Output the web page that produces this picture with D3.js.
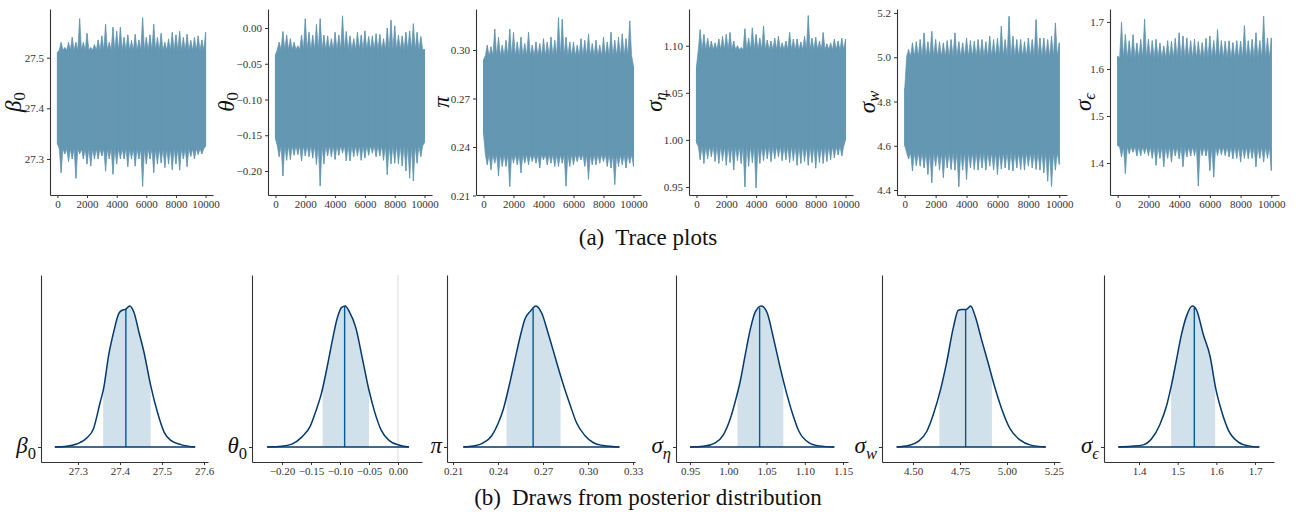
<!DOCTYPE html>
<html>
<head>
<meta charset="utf-8">
<script src="https://cdn.jsdelivr.net/npm/d3@7"></script>
<style>
  body { margin: 0; background: #fff; }
  svg text { font-family: "Liberation Serif", "Times New Roman", "DejaVu Serif", serif; }
</style>
</head>
<body>
<div id="chart"></div>
<script>
// ---------- data ----------
const traceIter = [0,250,500,750,1000,1250,1500,1750,2000,2250,2500,2750,3000,3250,3500,3750,4000,4250,4500,4750,
  5000,5250,5500,5750,6000,6250,6500,6750,7000,7250,7500,7750,8000,8250,8500,8750,9000,9250,9500,9750,10000];
const traceXTicks = [0,2000,4000,6000,8000,10000];

// upper / lower extremes of each trace, read per 250 iterations
const hiBeta0 = [27.51,27.53,27.52,27.53,27.54,27.53,27.577,27.53,27.548,27.52,27.526,27.535,27.543,27.566,27.53,27.56,27.552,27.56,27.54,27.545,
  27.534,27.546,27.535,27.579,27.54,27.545,27.566,27.54,27.548,27.53,27.537,27.55,27.545,27.552,27.54,27.546,27.534,27.54,27.543,27.535,27.55];
const loBeta0 = [27.33,27.273,27.31,27.295,27.30,27.262,27.31,27.30,27.29,27.286,27.30,27.30,27.306,27.276,27.30,27.27,27.29,27.30,27.30,27.285,
  27.30,27.286,27.30,27.246,27.29,27.30,27.273,27.29,27.292,27.283,27.29,27.279,27.29,27.278,27.30,27.285,27.305,27.30,27.309,27.31,27.325];
const hiTheta0 = [-0.037,-0.02,-0.005,-0.01,-0.015,-0.02,-0.025,-0.01,0.013,-0.006,-0.01,0.005,0.013,-0.01,-0.011,-0.015,-0.006,-0.01,0.017,-0.005,
  -0.011,-0.015,-0.006,-0.01,-0.004,-0.012,-0.011,-0.008,-0.009,-0.015,0.0,0.011,0.003,-0.01,-0.011,-0.006,-0.004,0.006,-0.006,-0.012,-0.03];
const loTheta0 = [-0.155,-0.18,-0.207,-0.185,-0.184,-0.178,-0.177,-0.186,-0.179,-0.18,-0.182,-0.191,-0.221,-0.19,-0.179,-0.18,-0.184,-0.178,-0.175,-0.186,
  -0.186,-0.18,-0.179,-0.185,-0.182,-0.178,-0.175,-0.18,-0.179,-0.185,-0.205,-0.19,-0.189,-0.19,-0.193,-0.2,-0.21,-0.214,-0.189,-0.18,-0.16];
const hiPi = [0.294,0.303,0.302,0.313,0.308,0.303,0.306,0.313,0.311,0.305,0.308,0.304,0.311,0.303,0.305,0.304,0.307,0.305,0.308,0.306,
  0.320,0.319,0.308,0.305,0.305,0.303,0.307,0.306,0.31,0.304,0.306,0.303,0.308,0.305,0.311,0.306,0.308,0.31,0.307,0.318,0.29];
const loPi = [0.248,0.229,0.226,0.23,0.222,0.228,0.228,0.2155,0.23,0.229,0.224,0.23,0.229,0.231,0.23,0.227,0.232,0.229,0.23,0.228,
  0.228,0.23,0.2158,0.228,0.229,0.231,0.232,0.228,0.22,0.229,0.229,0.23,0.231,0.228,0.227,0.2168,0.228,0.229,0.227,0.23,0.228];
const hiSigEta = [1.078,1.117,1.112,1.108,1.105,1.103,1.107,1.11,1.112,1.114,1.105,1.1,1.098,1.118,1.108,1.119,1.112,1.108,1.121,1.106,
  1.105,1.108,1.11,1.103,1.105,1.114,1.107,1.107,1.104,1.11,1.132,1.108,1.109,1.105,1.114,1.102,1.103,1.107,1.105,1.108,1.107];
const loSigEta = [0.997,0.979,0.975,0.98,0.982,0.977,0.975,0.978,0.973,0.976,0.968,0.978,0.975,0.95,0.972,0.976,0.949,0.975,0.978,0.98,
  0.977,0.98,0.982,0.978,0.979,0.976,0.978,0.973,0.975,0.977,0.973,0.976,0.97,0.976,0.975,0.977,0.979,0.981,0.984,0.983,1.0];
const hiSigW = [4.86,5.035,5.065,5.07,5.08,5.11,5.07,5.117,5.08,5.07,5.065,5.075,5.08,5.11,5.07,5.065,5.087,5.075,5.072,5.08,
  5.08,5.07,5.095,5.08,5.087,5.14,5.08,5.185,5.095,5.08,5.08,5.07,5.087,5.08,5.17,5.087,5.087,5.08,5.095,5.155,5.065];
const loSigW = [4.6,4.54,4.486,4.51,4.508,4.5,4.47,4.433,4.508,4.49,4.456,4.5,4.493,4.49,4.415,4.49,4.448,4.5,4.493,4.49,
  4.5,4.49,4.508,4.49,4.47,4.495,4.5,4.49,4.486,4.5,4.493,4.49,4.508,4.5,4.493,4.49,4.478,4.44,4.415,4.49,4.516];
const hiSigEps = [1.627,1.699,1.673,1.66,1.673,1.655,1.663,1.706,1.663,1.66,1.663,1.655,1.649,1.66,1.659,1.665,1.677,1.67,1.666,1.66,
  1.663,1.658,1.656,1.665,1.67,1.66,1.684,1.66,1.659,1.66,1.656,1.66,1.659,1.692,1.66,1.663,1.677,1.66,1.712,1.666,1.666];
const loSigEps = [1.437,1.413,1.3775,1.42,1.423,1.415,1.416,1.42,1.416,1.41,1.395,1.41,1.392,1.41,1.402,1.415,1.409,1.392,1.413,1.415,
  1.416,1.351,1.416,1.415,1.384,1.37,1.416,1.418,1.416,1.413,1.409,1.41,1.402,1.41,1.409,1.41,1.392,1.41,1.402,1.41,1.384];

// solid body of each trace (where the chain sits almost all the time)
const coreHi = [27.515,-0.03,0.2966,1.096,5.005,1.624];
const coreLo = [27.32,-0.165,0.2352,0.993,4.568,1.434];

const traceYTicks = [[27.3,27.4,27.5],[-0.20,-0.15,-0.10,-0.05,0.00],[0.21,0.24,0.27,0.30],[0.95,1.00,1.05,1.10],[4.4,4.6,4.8,5.0,5.2],[1.4,1.5,1.6,1.7]];
const traceYFmt = [".1f",".2f",".2f",".2f",".1f",".1f"];

// posterior densities (value, relative height)
const densBeta0 = [[27.245,0],[27.273,0.005],[27.297,0.021],[27.321,0.064],[27.337,0.13],[27.353,0.319],[27.361,0.414],[27.373,0.65],[27.385,0.816],
  [27.397,0.946],[27.405,0.97],[27.413,0.976],[27.423,1.0],[27.433,0.957],[27.445,0.816],[27.457,0.674],[27.473,0.437],[27.489,0.248],[27.505,0.106],
  [27.521,0.047],[27.545,0.017],[27.579,0]];
const densTheta0 = [[-0.2256,0],[-0.2006,0.005],[-0.183,0.02],[-0.166,0.07],[-0.151,0.15],[-0.142,0.25],[-0.132,0.38],[-0.122,0.57],[-0.113,0.76],
  [-0.105,0.91],[-0.097,0.99],[-0.091,1.0],[-0.084,0.96],[-0.073,0.85],[-0.061,0.62],[-0.051,0.42],[-0.041,0.26],[-0.029,0.12],[-0.015,0.045],
  [0.003,0.012],[0.019,0]];
const densPi = [[0.2169,0],[0.2236,0.007],[0.2302,0.03],[0.2358,0.08],[0.2402,0.17],[0.2436,0.27],[0.2471,0.42],[0.2513,0.62],[0.2547,0.78],
  [0.258,0.91],[0.2613,0.96],[0.2653,1.0],[0.2691,0.95],[0.2736,0.8],[0.278,0.64],[0.2813,0.52],[0.2836,0.44],[0.288,0.3],[0.2924,0.17],
  [0.298,0.08],[0.3036,0.03],[0.3102,0.01],[0.3209,0]];
const densSigEta = [[0.95,0],[0.9675,0.005],[0.983,0.03],[0.994,0.09],[1.0026,0.2],[1.01,0.34],[1.0158,0.47],[1.0224,0.66],[1.029,0.84],
  [1.0355,0.96],[1.0434,1.0],[1.0509,0.95],[1.0596,0.76],[1.0684,0.55],[1.0763,0.38],[1.0838,0.24],[1.0925,0.11],[1.1057,0.03],[1.1189,0.008],[1.1386,0]];
const densSigW = [[4.413,0],[4.475,0.01],[4.528,0.04],[4.573,0.11],[4.608,0.23],[4.647,0.41],[4.679,0.6],[4.715,0.85],[4.741,0.97],[4.759,0.975],
  [4.782,0.975],[4.807,1.0],[4.83,0.93],[4.865,0.76],[4.901,0.59],[4.936,0.42],[4.972,0.27],[5.016,0.13],[5.069,0.05],[5.122,0.015],[5.206,0]];
const densSigEps = [[1.3466,0],[1.381,0.005],[1.411,0.015],[1.433,0.06],[1.454,0.16],[1.472,0.3],[1.484,0.44],[1.497,0.62],[1.51,0.8],[1.523,0.93],
  [1.538,1.0],[1.549,0.97],[1.566,0.8],[1.584,0.64],[1.598,0.42],[1.614,0.25],[1.631,0.12],[1.657,0.035],[1.683,0.008],[1.711,0]];

const medians = [27.414,-0.092,0.2634,1.041,4.78,1.543];
const intervalLo = [27.36,-0.13,0.2457,1.012,4.64,1.483];
const intervalHi = [27.473,-0.05,0.2817,1.072,4.92,1.597];

const densXTicks = [[27.3,27.4,27.5,27.6],[-0.20,-0.15,-0.10,-0.05,0.00],[0.21,0.24,0.27,0.30,0.33],[0.95,1.00,1.05,1.10,1.15],[4.50,4.75,5.00,5.25],[1.4,1.5,1.6,1.7]];
const densXFmt = [".1f",".2f",".2f",".2f",".2f",".1f"];

const labels = [
  {base:"β", sub:"0", subItalic:false},
  {base:"θ", sub:"0", subItalic:false},
  {base:"π", sub:null},
  {base:"σ", sub:"η", subItalic:true},
  {base:"σ", sub:"w", subItalic:true},
  {base:"σ", sub:"ϵ", subItalic:true}
];

const traceHi = [hiBeta0,hiTheta0,hiPi,hiSigEta,hiSigW,hiSigEps];
const traceLo = [loBeta0,loTheta0,loPi,loSigEta,loSigW,loSigEps];
const dens = [densBeta0,densTheta0,densPi,densSigEta,densSigW,densSigEps];

// ---------- layout ----------
const W = 1296, H = 512;
const traceColor = "#6497b1", areaFill = "#d1e1ec", outline = "#03396c", medColor = "#005b96", axisColor = "#333";
const topPanels = [
  {x0:50,  x1:213,  dom:[27.229,27.596], lx:13},
  {x0:268, x1:432,  dom:[-0.2336,0.0266], lx:226},
  {x0:476, x1:641,  dom:[0.2103,0.3254], lx:441},
  {x0:689, x1:853,  dom:[0.9415,1.139], lx:654},
  {x0:897, x1:1067, dom:[4.3775,5.218], lx:867},
  {x0:1110,x1:1279, dom:[1.332,1.7275], lx:1083}
];
const topY0 = 9, topY1 = 195;
const botPanels = [
  {x0:41,  x1:208,  dom:[27.212,27.6095]},
  {x0:252, x1:422,  dom:[-0.2517,0.0414]},
  {x0:447, x1:635,  dom:[0.206,0.3313]},
  {x0:676, x1:848,  dom:[0.9317,1.1565]},
  {x0:882, x1:1060, dom:[4.335,5.282]},
  {x0:1104,x1:1274, dom:[1.3095,1.749]}
];
const botTop = 275, botAxis = 462, botBase = 447, botPeak = 306;

const svg = d3.select("#chart").append("svg").attr("width", W).attr("height", H);

function mathLabel(t, lab, size) {
  t.attr("font-size", size).attr("fill", "#111");
  t.append("tspan").attr("font-style", "italic").text(lab.base);
  if (lab.sub) {
    t.append("tspan").attr("font-size", size * 0.72).attr("dy", size * 0.26)
      .attr("font-style", lab.subItalic ? "italic" : "normal").text(lab.sub);
  }
}
function styleAxis(g) {
  g.select(".domain").attr("stroke", axisColor).attr("stroke-width", 1.1);
  g.selectAll(".tick line").attr("stroke", axisColor);
  g.selectAll(".tick text").attr("fill", "#333").attr("font-size", 11)
    .attr("font-family", "'Liberation Serif','Times New Roman',serif");
}

// ---------- (a) trace plots ----------
topPanels.forEach((p, i) => {
  const x = d3.scaleLinear().domain([-500, 10500]).range([p.x0, p.x1]);
  const y = d3.scaleLinear().domain(p.dom).range([topY1, topY0]);
  const g = svg.append("g");
  const hi = traceHi[i], lo = traceLo[i];
  const half = (traceIter[1] - traceIter[0]) / 2;

  // outline of the chain: extremes with the solid body in between
  const topPts = [], botPts = [];
  traceIter.forEach((it, k) => {
    topPts.push([it, hi[k]]);
    botPts.push([it, lo[k]]);
    if (k < traceIter.length - 1) {
      topPts.push([it + half, coreHi[i]]);
      botPts.push([it + half, coreLo[i]]);
    }
  });
  const line = d3.line().x(d => x(d[0])).y(d => y(d[1]));
  g.append("path")
    .attr("d", line(topPts.concat(botPts.reverse())) + "Z")
    .attr("fill", traceColor).attr("stroke", traceColor).attr("stroke-width", 0.7)
    .attr("stroke-linejoin", "miter");
  g.selectAll("line.spike").data(traceIter).enter().append("line")
    .attr("class", "spike")
    .attr("x1", d => x(d)).attr("x2", d => x(d))
    .attr("y1", (d, k) => y(lo[k])).attr("y2", (d, k) => y(hi[k]))
    .attr("stroke", traceColor).attr("stroke-width", 1);

  const ya = g.append("g").attr("transform", `translate(${p.x0},0)`)
    .call(d3.axisLeft(y).tickValues(traceYTicks[i]).tickSize(3).tickSizeOuter(0).tickPadding(3).tickFormat(d3.format(traceYFmt[i])));
  styleAxis(ya);
  const xa = g.append("g").attr("transform", `translate(0,${topY1})`)
    .call(d3.axisBottom(x).tickValues(traceXTicks).tickSize(3).tickSizeOuter(0).tickPadding(2).tickFormat(d3.format("d")));
  styleAxis(xa);

  const t = g.append("text").attr("transform", `translate(${p.lx},${(topY0 + topY1) / 2}) rotate(-90)`)
    .attr("text-anchor", "middle").attr("dominant-baseline", "central");
  mathLabel(t, labels[i], 23);
});

function caption(y, tag, body) {
  const t = svg.append("text").attr("x", 648).attr("y", y).attr("text-anchor", "middle")
    .attr("font-size", 23).attr("fill", "#111");
  t.append("tspan").text(tag);
  t.append("tspan").attr("dx", 11).text(body);
}
caption(245, "(a)", "Trace plots");

// ---------- (b) posterior densities ----------
botPanels.forEach((p, i) => {
  const x = d3.scaleLinear().domain(p.dom).range([p.x0, p.x1]);
  const y = d3.scaleLinear().domain([0, 1]).range([botBase, botPeak]);
  const g = svg.append("g");
  const d = dens[i];

  if (p.dom[0] < 0 && p.dom[1] > 0) {
    g.append("line").attr("x1", x(0)).attr("x2", x(0)).attr("y1", botTop).attr("y2", botAxis)
      .attr("stroke", "#e6e6e6").attr("stroke-width", 1.5);
  }

  const clipId = "clip" + i;
  g.append("clipPath").attr("id", clipId).append("rect")
    .attr("x", x(intervalLo[i])).attr("width", x(intervalHi[i]) - x(intervalLo[i]))
    .attr("y", botTop).attr("height", botBase - botTop);
  const area = d3.area().x(v => x(v[0])).y0(y(0)).y1(v => y(v[1])).curve(d3.curveMonotoneX);
  g.append("path").attr("d", area(d)).attr("fill", areaFill).attr("clip-path", `url(#${clipId})`);

  // median line up to the curve
  const m = medians[i];
  const k = d3.bisector(v => v[0]).right(d, m) - 1;
  const t0 = (m - d[k][0]) / (d[k + 1][0] - d[k][0]);
  const hm = d[k][1] + t0 * (d[k + 1][1] - d[k][1]);
  g.append("line").attr("x1", x(m)).attr("x2", x(m)).attr("y1", y(0)).attr("y2", y(hm))
    .attr("stroke", medColor).attr("stroke-width", 1.4);

  const curve = d3.line().x(v => x(v[0])).y(v => y(v[1])).curve(d3.curveMonotoneX);
  g.append("path").attr("d", curve(d)).attr("fill", "none").attr("stroke", outline).attr("stroke-width", 1.5);
  g.append("line").attr("x1", x(d[0][0])).attr("x2", x(d[d.length - 1][0])).attr("y1", y(0)).attr("y2", y(0))
    .attr("stroke", outline).attr("stroke-width", 1.5);

  // axes
  const yAx = d3.scaleLinear().domain([y.invert(botAxis), y.invert(botTop)]).range([botAxis, botTop]);
  const ya = g.append("g").attr("transform", `translate(${p.x0},0)`)
    .call(d3.axisLeft(yAx).tickValues([0]).tickSize(3).tickSizeOuter(0).tickFormat(""));
  styleAxis(ya);
  const xa = g.append("g").attr("transform", `translate(0,${botAxis})`)
    .call(d3.axisBottom(x).tickValues(densXTicks[i]).tickSize(3).tickSizeOuter(0).tickPadding(2).tickFormat(d3.format(densXFmt[i])));
  styleAxis(xa);

  const t = g.append("text").attr("x", p.x0 - 5).attr("y", botBase + 6).attr("text-anchor", "end");
  mathLabel(t, labels[i], 23);
});

caption(505, "(b)", "Draws from posterior distribution");
</script>
</body>
</html>
